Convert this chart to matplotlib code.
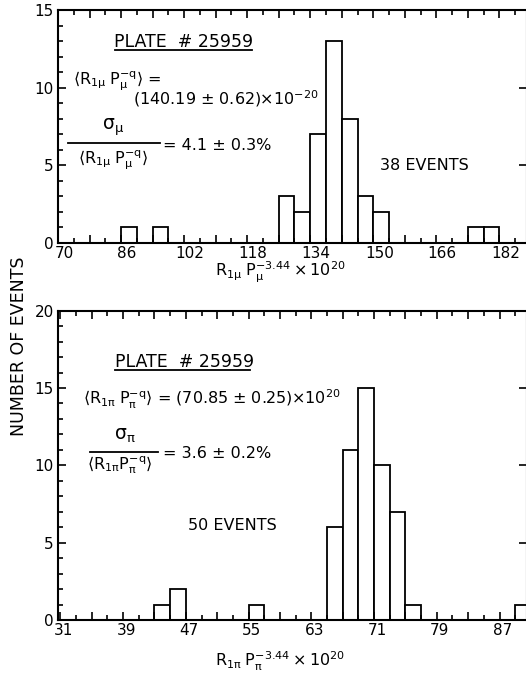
import matplotlib
matplotlib.use("AGG")
import matplotlib.pyplot as plt
from matplotlib.lines import Line2D
from matplotlib.transforms import ScaledTranslation
import numpy as np

# muon histogram (bin left edges, width 4)
mu_edges = [86, 94, 126, 130, 134, 138, 142, 146, 150, 174, 178]
mu_counts = [1, 1, 3, 2, 7, 13, 8, 3, 2, 1, 1]
mu_width = 4
mu_labels = [70, 86, 102, 118, 134, 150, 166, 182]

# pion histogram (bin left edges, width 2)
pi_edges = [43, 45, 55, 65, 67, 69, 71, 73, 75, 89]
pi_counts = [1, 2, 1, 6, 11, 15, 10, 7, 1, 1]
pi_width = 2
pi_labels = [31, 39, 47, 55, 63, 71, 79, 87]

plt.rcParams['font.family'] = 'DejaVu Sans'
plt.rcParams['mathtext.default'] = 'regular'

W, H = 526, 675
fig = plt.figure(figsize=(W / 100, H / 100), dpi=100)

def fx(x):
    return x / W

def fy(y):
    return 1 - y / H

def box(l, r, t, b):
    return [fx(l), fy(b), fx(r) - fx(l), fy(t) - fy(b)]

def hline(x0, x1, y, lw=1.3):
    fig.add_artist(Line2D([fx(x0), fx(x1)], [fy(y), fy(y)], color='black', lw=lw,
                          transform=fig.transFigure))

def style(ax, xmin, xmax, ymax, minor_step, major_step, label_vals, shift):
    ax.set_xlim(xmin, xmax)
    ax.set_ylim(0, ymax)
    x0 = label_vals[0]
    ax.set_xticks(np.arange(x0, xmax, minor_step), minor=True)
    majors = np.arange(x0, xmax, major_step)
    ax.set_xticks(majors, labels=[str(int(v)) if int(v) in label_vals else '' for v in majors])
    ax.set_yticks(np.arange(0, ymax + 0.1, 5))
    ax.set_yticks(np.arange(0, ymax + 0.1, 1), minor=True)
    ax.tick_params(which='major', direction='in', length=6, width=1.2, labelsize=11,
                   top=True, right=True, pad=2)
    ax.tick_params(which='minor', direction='in', length=3.5, width=1.2, top=True, right=False)
    ax.tick_params(axis='y', which='major', length=6, pad=3)
    # labels on the old plot sit a little right of their ticks
    off = ScaledTranslation(shift / 100, 0, fig.dpi_scale_trans)
    for lab in ax.get_xticklabels():
        lab.set_transform(lab.get_transform() + off)
    for s in ax.spines.values():
        s.set_linewidth(1.5)

# top panel
ax1 = fig.add_axes(box(58, 527, 10, 243))
ax1.bar(mu_edges, mu_counts, width=mu_width, align='edge', color='white',
        edgecolor='black', linewidth=1.3)
style(ax1, 70, 189, 15, 4, 8, mu_labels, 6)

# bottom panel
ax2 = fig.add_axes(box(58, 527, 310.7, 620))
ax2.bar(pi_edges, pi_counts, width=pi_width, align='edge', color='white',
        edgecolor='black', linewidth=1.3)
style(ax2, 30.7, 90.5, 20, 2, 4, pi_labels, 3)

fs = 11.5
# top annotations
fig.text(fx(184), fy(42), 'PLATE  # 25959', fontsize=12.5, ha='center', va='center')
hline(115, 252, 50)
fig.text(fx(73), fy(81), r'$\langle R_{1\mu}\;P_{\mu}^{-q}\rangle$ =', fontsize=fs,
         ha='left', va='center')
fig.text(fx(133), fy(99), r'(140.19 ± 0.62)×10$^{-20}$', fontsize=fs, ha='left', va='center')
fig.text(fx(113), fy(127), r'$\sigma_{\mu}$', fontsize=fs + 2, ha='center', va='center')
hline(68, 160, 143)
fig.text(fx(163), fy(146), '= 4.1 ± 0.3%', fontsize=fs, ha='left', va='center')
fig.text(fx(113), fy(160), r'$\langle R_{1\mu}\;P_{\mu}^{-q}\rangle$', fontsize=fs,
         ha='center', va='center')
fig.text(fx(380), fy(165), '38 EVENTS', fontsize=fs, ha='left', va='center')
fig.text(fx(280), fy(272), r'$R_{1\mu}\;P_{\mu}^{-3.44}\times10^{20}$', fontsize=fs,
         ha='center', va='center')

# bottom annotations
fig.text(fx(185), fy(362), 'PLATE  # 25959', fontsize=12.5, ha='center', va='center')
hline(115, 250, 370)
fig.text(fx(83), fy(399), r'$\langle R_{1\pi}\;P_{\pi}^{-q}\rangle$ = (70.85 ± 0.25)×10$^{20}$',
         fontsize=fs, ha='left', va='center')
fig.text(fx(125), fy(436), r'$\sigma_{\pi}$', fontsize=fs + 2, ha='center', va='center')
hline(90, 158, 452)
fig.text(fx(163), fy(454), '= 3.6 ± 0.2%', fontsize=fs, ha='left', va='center')
fig.text(fx(120), fy(465), r'$\langle R_{1\pi}P_{\pi}^{-q}\rangle$', fontsize=fs,
         ha='center', va='center')
fig.text(fx(188), fy(526), '50 EVENTS', fontsize=fs, ha='left', va='center')
fig.text(fx(280), fy(661), r'$R_{1\pi}\;P_{\pi}^{-3.44}\times10^{20}$', fontsize=fs,
         ha='center', va='center')

fig.text(fx(19), fy(346), 'NUMBER OF EVENTS', fontsize=12.5, rotation=90,
         ha='center', va='center')

fig.savefig('out.png', dpi=100)
